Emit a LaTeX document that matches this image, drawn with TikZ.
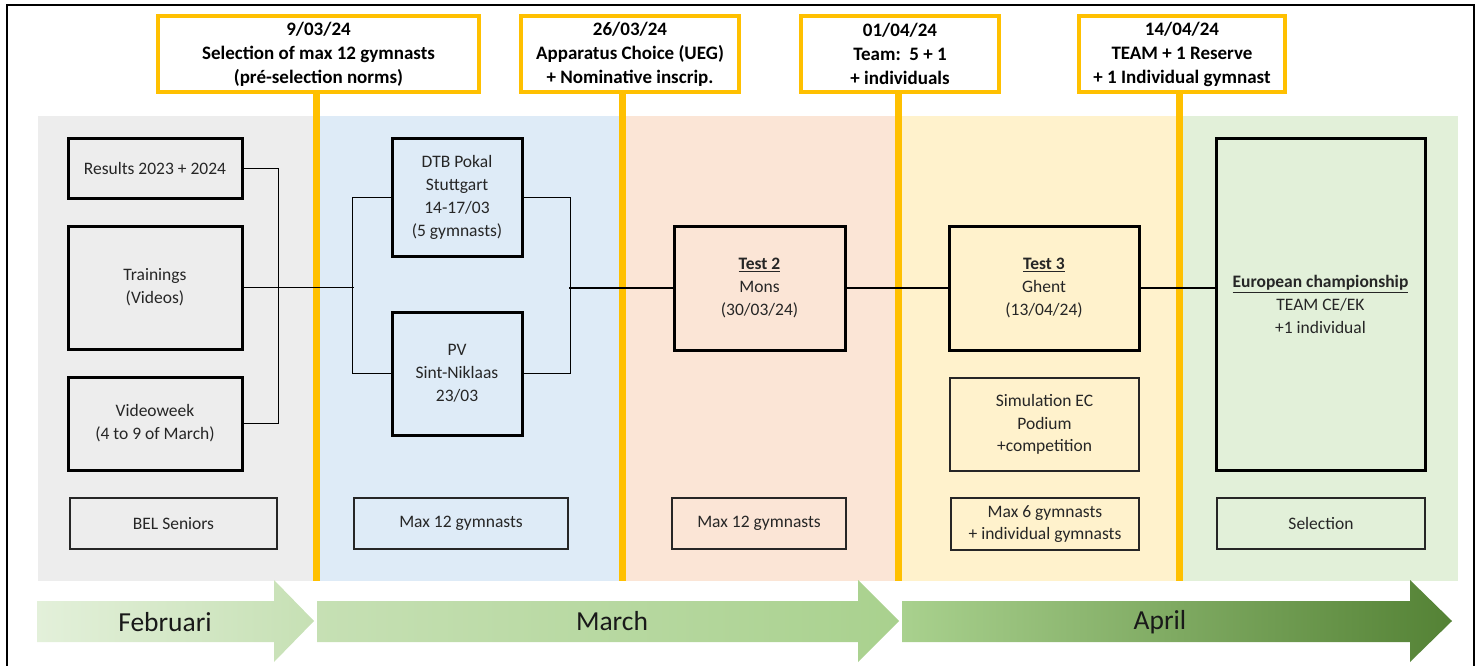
\documentclass[tikz,border=0pt]{standalone}
\usepackage{fontspec}
\setmainfont{Carlito}
\definecolor{pgray}{HTML}{EDEDED}
\definecolor{pblue}{HTML}{DEEBF7}
\definecolor{ppeach}{HTML}{FBE5D6}
\definecolor{pyellow}{HTML}{FFF2CC}
\definecolor{pgreen}{HTML}{E2F0D9}
\definecolor{gold}{HTML}{FFC000}
\definecolor{txt}{HTML}{262626}
\definecolor{ga1}{HTML}{E3F0DA}
\definecolor{ga2}{HTML}{C6E0B4}
\definecolor{gb2}{HTML}{A9D18E}
\definecolor{gc2}{HTML}{548235}
\tikzset{
  topbox/.style={draw=gold, line width=4pt, fill=white, inner sep=0pt, align=center,
    font=\fontsize{19}{24}\selectfont\bfseries, text=black},
  thickbox/.style={draw=black, line width=3pt, inner sep=0pt, align=center,
    font=\fontsize{17.5}{23}\selectfont, text=txt},
  thinbox/.style={draw=black!85, line width=1.3pt, inner sep=0pt, align=center,
    font=\fontsize{17.5}{22.5}\selectfont, text=txt},
  conn/.style={draw=black, line width=1.2pt},
  yl/.style={draw=gold, line width=7pt},
  month/.style={font=\fontsize{27.5}{30}\selectfont, text=black!90, inner sep=0pt},
  frame/.style={draw=black, line width=2pt}
}
\begin{document}
\begin{tikzpicture}[x=1pt,y=-1pt]
\useasboundingbox (0,0) rectangle (1483,666);
% frame
\draw[frame] (7,666) -- (7,5) -- (1474,5) -- (1474,666);
% panels
\fill[pgray] (38,116) rectangle (317,581);
\fill[pblue] (317,116) rectangle (622,581);
\fill[ppeach] (622,116) rectangle (898,581);
\fill[pyellow] (898,116) rectangle (1180,581);
\fill[pgreen] (1180,116) rectangle (1458,581);
% top boxes
\node[topbox, minimum width=321, minimum height=76] (b1) at (318.5,54) {9/03/24\\Selection of max 12 gymnasts\\(pré-selection norms)};
\node[topbox, minimum width=218, minimum height=76] (b2) at (630,54) {26/03/24\\Apparatus Choice (UEG)\\+ Nominative inscrip.};
\node[topbox, minimum width=198, minimum height=76] (b3) at (900,54) {01/04/24\\Team:\ \ 5 + 1\\+ individuals};
\node[topbox, minimum width=206, minimum height=76] (b4) at (1182,54) {14/04/24\\TEAM + 1 Reserve\\+ 1 Individual gymnast};
% yellow markers
\draw[yl] (b1.south -| 316,0) -- (316,581);
\draw[yl] (b2.south -| 622,0) -- (622,581);
\draw[yl] (b3.south -| 898,0) -- (898,581);
\draw[yl] (b4.south -| 1179,0) -- (1179,581);
% left column
\node[thickbox, minimum width=174, minimum height=59] (res) at (155,168.5) {Results 2023 + 2024};
\node[thickbox, minimum width=174, minimum height=123] (trn) at (155,287.5) {Trainings\\(Videos)};
\node[thickbox, minimum width=174, minimum height=93] (vid) at (155,423.5) {Videoweek\\(4 to 9 of March)};
\node[thinbox, minimum width=207, minimum height=51] (bel) at (173.5,523.5) {BEL Seniors};
% blue column
\node[thickbox, minimum width=130, minimum height=117] (dtb) at (457,197.5) {DTB Pokal\\Stuttgart\\14-17/03\\(5 gymnasts)};
\node[thickbox, minimum width=130, minimum height=123] (pv) at (457,373.5) {PV\\Sint-Niklaas\\23/03};
\node[thinbox, minimum width=214, minimum height=51] (m12a) at (461,523.5) {Max 12 gymnasts};
% peach column
\node[thickbox, minimum width=171, minimum height=124] (t2) at (759.5,288) {\underline{\textbf{Test 2}}\\Mons\\(30/03/24)};
\node[thinbox, minimum width=174, minimum height=51] (m12b) at (759,523.5) {Max 12 gymnasts};
% yellow column
\node[thickbox, minimum width=190, minimum height=124] (t3) at (1044,288) {\underline{\textbf{Test 3}}\\Ghent\\(13/04/24)};
\node[thinbox, minimum width=189, minimum height=93] (sim) at (1044.5,424.5) {Simulation EC\\Podium\\+competition};
\node[thinbox, minimum width=188, minimum height=52] (m6) at (1045,524) {Max 6 gymnasts\\+ individual gymnasts};
% green column
\node[thickbox, minimum width=209, minimum height=331] (ec) at (1320.5,304.5) {\underline{\textbf{European championship}}\\TEAM CE/EK\\+1 individual};
\node[thinbox, minimum width=208, minimum height=51] (sel) at (1321,523.5) {Selection};
% connectors
\coordinate (jL) at (354,287.5);
\coordinate (jR) at (569,288);
\draw[conn] (res.east) -- ++(35,0) |- (vid.east);
\draw[conn] (trn.east) -- (jL);
\draw[conn] (dtb.west) -- ++(-38,0) |- (pv.west);
\draw[conn] (dtb.east) -- ++(47,0) |- (pv.east);
\draw[conn] (jR) -- (t2.west);
\draw[conn] (t2.east) -- (t3.west);
\draw[conn] (t3.east) -- (t3.east -| ec.west);
% month arrows
\shade[left color=ga1, right color=ga2] (37,601) -- (274,601) -- (274,580) -- (314,621) -- (274,662) -- (274,642) -- (37,642) -- cycle;
\shade[left color=ga2, right color=gb2] (317,601) -- (858,601) -- (858,580) -- (899,621) -- (858,662) -- (858,642) -- (317,642) -- cycle;
\shade[left color=gb2, right color=gc2] (902,601) -- (1410,601) -- (1410,580) -- (1452,621) -- (1410,662) -- (1410,642) -- (902,642) -- cycle;
\node[month] (feb) at (165,622) {Februari};
\node[month] (mar) at (612,621) {March};
\node[month] (apr) at (1160,622) {April};
\end{tikzpicture}
\end{document}
